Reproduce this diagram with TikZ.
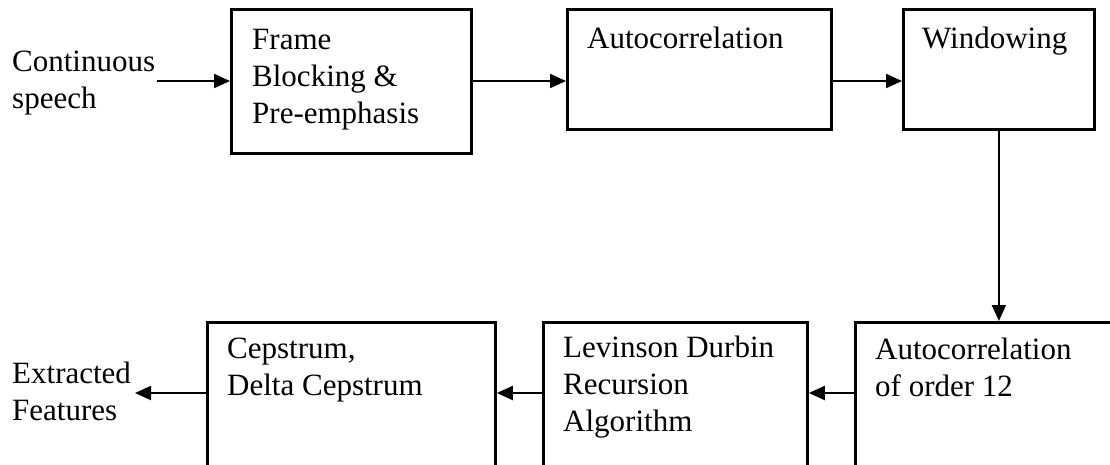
\documentclass[tikz,border=0pt]{standalone}
\usepackage{fontspec}
\setmainfont{Liberation Serif}
\usetikzlibrary{arrows.meta}
\begin{document}
\begin{tikzpicture}[x=1pt,y=-1pt,
  blockbox/.style={draw, line width=2.8pt, inner sep=0pt, rectangle},
  boxtext/.style={inner sep=0pt, anchor=base west, align=left,
    font=\fontsize{31}{37}\selectfont},
  arr/.style={line width=2pt, -{Triangle[length=16pt,width=14pt]}}]
\useasboundingbox (0,0) rectangle (1110,464);
\clip (0,0) rectangle (1110,464);

% top row of processing blocks
\node[blockbox, minimum width=240pt, minimum height=144pt, anchor=north west] (frame) at (230,8) {};
\node[blockbox, minimum width=264pt, minimum height=120pt, anchor=north west] (auto) at (566,8) {};
\node[blockbox, minimum width=191pt, minimum height=120pt, anchor=north west] (win) at (902,8) {};

% bottom row of processing blocks
\node[blockbox, minimum width=288pt, minimum height=170pt, anchor=north west] (cep) at (206,321) {};
\node[blockbox, minimum width=264pt, minimum height=170pt, anchor=north west] (lev) at (542,321) {};
\node[blockbox, minimum width=270pt, minimum height=170pt, anchor=north west] (ac12) at (854,321) {};

% block captions (placed by the baseline of their last line)
\node[boxtext] (tframe) at (252,123) {Frame\\Blocking \&\\Pre-emphasis};
\node[boxtext] (tauto) at (587,48) {Autocorrelation};
\node[boxtext] (twin) at (922,48) {Windowing};
\node[boxtext] (tcep) at (227,395) {Cepstrum,\\Delta Cepstrum};
\node[boxtext] (tlev) at (563,431) {Levinson Durbin\\Recursion\\Algorithm};
\node[boxtext] (tac12) at (875,396) {Autocorrelation\\of order 12};

% input and output labels
\node[boxtext] (inlbl) at (12,108) {Continuous\\speech};
\node[boxtext] (outlbl) at (12,420) {Extracted\\Features};

% signal path
\coordinate (in) at (157,81);
\coordinate (out) at (135,393);
\coordinate (toprow) at (0,81);
\coordinate (botrow) at (0,393);
\draw[arr] (in) -- (frame.west |- in);
\draw[arr] (frame.east |- toprow) -- (auto.west |- toprow);
\draw[arr] (auto.east |- toprow) -- (win.west |- toprow);
\draw[arr] (win.south) -- (win.south |- ac12.north);
\draw[arr] (ac12.west |- botrow) -- (lev.east |- botrow);
\draw[arr] (lev.west |- botrow) -- (cep.east |- botrow);
\draw[arr] (cep.west |- out) -- (out);
\end{tikzpicture}
\end{document}
